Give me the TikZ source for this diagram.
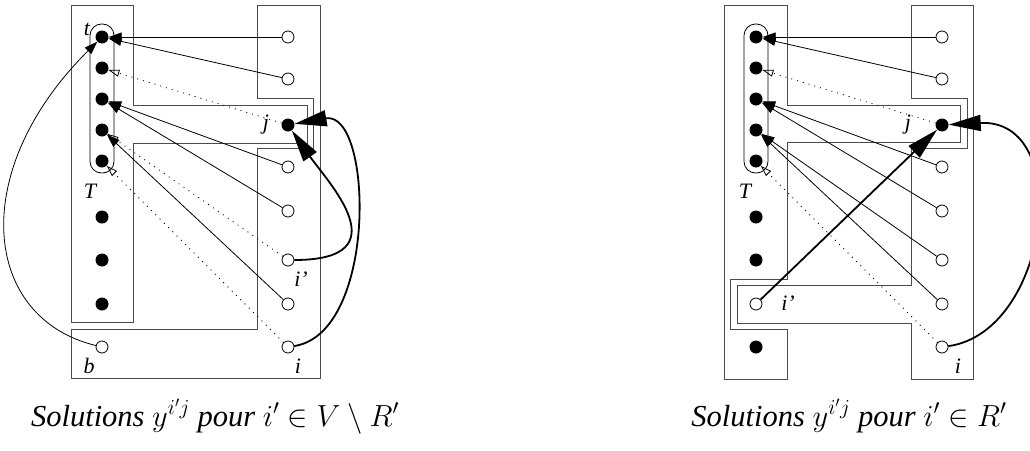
\RequirePackage{fix-cm}
\documentclass[tikz,border=0pt]{standalone}
\usepackage{fontspec}
\setmainfont{Liberation Serif}
\usetikzlibrary{arrows.meta}

\begin{document}
\begin{tikzpicture}[x=1pt, y=-1pt,
		full/.style={circle, fill=black, inner sep=0pt, minimum size=13pt},
		empty/.style={circle, draw, fill=white, inner sep=0pt, minimum size=12pt, line width=0.8pt},
		lbl/.style={font=\fontsize{22}{26}\selectfont\itshape, inner sep=0pt, anchor=base},
		caption/.style={font=\fontsize{30.5}{36}\selectfont\itshape, inner sep=0pt, anchor=base},
		box/.style={draw=black!70, line width=1pt},
		bag/.style={draw, line width=0.8pt, rounded corners=11.5pt},
		arc/.style={line width=0.8pt, -{Triangle[length=13pt, width=9pt]}},
		weak/.style={line width=0.8pt, dash pattern=on 1pt off 5pt, -{Triangle[open, length=11pt, width=7pt]}},
		heavy/.style={line width=1.8pt, -{Triangle[length=32pt, width=16pt]}}]
		\useasboundingbox (0, 0) rectangle (1030, 450);

		% solutions pour i' dans V \ R'
		\draw[box] (71, 5) -- (133, 5) -- (133, 105) -- (307, 105) -- (307, 143) -- (133, 143) -- (133, 322) -- (71, 322) -- cycle;
		\draw[box] (257, 5) -- (320, 5) -- (320, 378) -- (71, 378) -- (71, 329) -- (257, 329) -- (257, 148) -- (313, 148) -- (313, 98) -- (257, 98) -- cycle;
		\draw[bag] (90, 24) rectangle (114, 173);

		\node[full] (t) at (102, 37) {};
		\node[full] (s2) at (102, 68) {};
		\node[full] (s3) at (102, 99) {};
		\node[full] (s4) at (102, 130) {};
		\node[full] (s5) at (102, 161) {};
		\node[full] (s6) at (102, 217) {};
		\node[full] (s7) at (102, 260) {};
		\node[full] (s8) at (102, 304) {};
		\node[empty] (b) at (102, 347) {};
		\node[empty] (r1) at (288, 37) {};
		\node[empty] (r2) at (288, 79) {};
		\node[full] (j) at (288, 125) {};
		\node[empty] (r3) at (288, 167) {};
		\node[empty] (r4) at (288, 211) {};
		\node[empty] (ip) at (288, 260) {};
		\node[empty] (r5) at (288, 304) {};
		\node[empty] (i) at (288, 347) {};

		\node[lbl] (tl) at (87, 35) {t};
		\node[lbl] (Tl) at (90, 198) {T};
		\node[lbl] (jl) at (266, 129) {j};
		\node[lbl] (ipl) at (301, 286) {i'};
		\node[lbl] (bl) at (89, 373) {b};
		\node[lbl] (il) at (298, 373) {i};

		\draw[arc] (r1) -- (t);
		\draw[arc] (r2) -- (t);
		\draw[weak] (j) -- (s2);
		\draw[arc] (r3) -- (s3);
		\draw[arc] (r4) -- (s3);
		\draw[arc] (r5) -- (s4);
		\draw[weak] (ip) -- (s4);
		\draw[weak] (i) -- (s5);
		\draw[arc] (b) .. controls (-18, 318) and (-33, 171) .. (t);
		\draw[heavy] (ip) .. controls (403, 260) and (327, 181) .. (j);
		\draw[heavy] (i) .. controls (378, 333) and (373, 110) .. (j);

		\node[caption] (cap1) at (215, 426) {Solutions $y^{i'j}$ pour $i'\in V\setminus R'$};

		% solutions pour i' dans R'
		\draw[box] (724, 5) -- (787, 5) -- (787, 105) -- (960, 105) -- (960, 142) -- (787, 142) -- (787, 279) -- (730, 279) -- (730, 329) -- (787, 329) -- (787, 379) -- (724, 379) -- cycle;
		\draw[box] (911, 5) -- (973, 5) -- (973, 379) -- (911, 379) -- (911, 323) -- (737, 323) -- (737, 285) -- (911, 285) -- (911, 148) -- (967, 148) -- (967, 98) -- (911, 98) -- cycle;
		\draw[bag] (744, 24) rectangle (768, 173);

		\node[full] (u1) at (756, 37) {};
		\node[full] (u2) at (756, 68) {};
		\node[full] (u3) at (756, 99) {};
		\node[full] (u4) at (756, 130) {};
		\node[full] (u5) at (756, 161) {};
		\node[full] (u6) at (756, 217) {};
		\node[full] (u7) at (756, 260) {};
		\node[empty] (v) at (756, 304) {};
		\node[full] (u9) at (756, 347) {};
		\node[empty] (w1) at (942, 37) {};
		\node[empty] (w2) at (942, 79) {};
		\node[full] (k) at (942, 125) {};
		\node[empty] (w3) at (942, 167) {};
		\node[empty] (w4) at (942, 211) {};
		\node[empty] (w5) at (942, 260) {};
		\node[empty] (w6) at (942, 304) {};
		\node[empty] (h) at (942, 347) {};

		\node[lbl] (Tr) at (745, 198) {T};
		\node[lbl] (kl) at (908, 129) {j};
		\node[lbl] (vl) at (788, 310) {i'};
		\node[lbl] (hl) at (958, 373) {i};

		\draw[arc] (w1) -- (u1);
		\draw[arc] (w2) -- (u1);
		\draw[weak] (k) -- (u2);
		\draw[arc] (w3) -- (u3);
		\draw[arc] (w4) -- (u3);
		\draw[arc] (w5) -- (u4);
		\draw[arc] (w6) -- (u4);
		\draw[weak] (h) -- (u5);
		\draw[heavy] (v) -- (k);
		\draw[heavy] (h) .. controls (1050, 332) and (1075, 118) .. (k);

		\node[caption] (cap2) at (849, 426) {Solutions $y^{i'j}$ pour $i'\in R'$};
	\end{tikzpicture}
\end{document}
